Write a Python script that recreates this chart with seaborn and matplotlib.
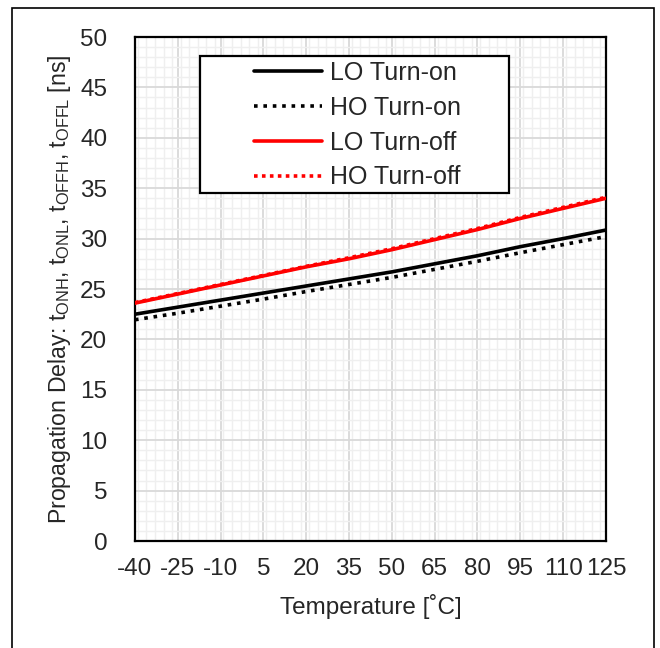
import matplotlib
matplotlib.use("Agg")
import matplotlib.pyplot as plt
import matplotlib.ticker as ticker
from matplotlib.patches import Rectangle
import seaborn as sns
import pandas as pd

# Data
temperature = [-40, -25, -10, 5, 20, 35, 50, 65, 80, 95, 110, 125]
lo_turn_on = [22.5, 23.2, 23.9, 24.6, 25.3, 26.0, 26.7, 27.5, 28.3, 29.2, 30.0, 30.85]
ho_turn_on = [21.95, 22.6, 23.3, 24.0, 24.75, 25.45, 26.15, 26.95, 27.75, 28.6, 29.4, 30.2]
lo_turn_off = [23.6, 24.5, 25.4, 26.3, 27.2, 28.0, 28.9, 29.9, 30.9, 32.0, 33.0, 34.0]
ho_turn_off = [23.65, 24.55, 25.45, 26.35, 27.25, 28.1, 29.0, 30.0, 31.0, 32.1, 33.1, 34.1]
x_ticks = [-40, -25, -10, 5, 20, 35, 50, 65, 80, 95, 110, 125]
y_ticks = [0, 5, 10, 15, 20, 25, 30, 35, 40, 45, 50]

series = [
    ("LO Turn-on", lo_turn_on, "black", "-"),
    ("HO Turn-on", ho_turn_on, "black", (0, (1, 1.6))),
    ("LO Turn-off", lo_turn_off, "#ff0000", "-"),
    ("HO Turn-off", ho_turn_off, "#ff0000", (0, (1, 1.2))),
]

sns.set_style("white")
plt.rcParams["font.family"] = ["Liberation Sans", "DejaVu Sans"]
plt.rcParams["mathtext.fontset"] = "custom"
plt.rcParams["mathtext.rm"] = "Liberation Sans"

fig = plt.figure(figsize=(6.6, 6.48), dpi=100)
ax = fig.add_axes([0.2045, 0.1651, 0.7136, 0.7778])

for name, vals, col, ls in series:
    df = pd.DataFrame({"T": temperature, "v": vals})
    sns.lineplot(data=df, x="T", y="v", ax=ax, color=col, linestyle=ls,
                 linewidth=2.6, label=name, zorder=3)

ax.set_xlim(-40, 125)
ax.set_ylim(0, 50)
ax.set_xticks(x_ticks)
ax.set_xticklabels([str(t) for t in x_ticks])
ax.set_yticks(y_ticks)
ax.xaxis.set_minor_locator(ticker.MultipleLocator(3))
ax.yaxis.set_minor_locator(ticker.MultipleLocator(1))
ax.grid(which="major", color="#d9d9d9", linewidth=1.3, zorder=0)
ax.grid(which="minor", color="#efefef", linewidth=1.0, zorder=0)
ax.set_axisbelow(True)
ax.tick_params(axis="both", which="both", length=0, labelsize=17.5)
ax.tick_params(axis="x", pad=12)
ax.tick_params(axis="y", pad=20)

for sp in ax.spines.values():
    sp.set_color("black")
    sp.set_linewidth(1.6)
    sp.set_visible(True)

ax.set_xlabel("Temperature [˚C]", fontsize=17.5, labelpad=10)
ax.set_ylabel(r"Propagation Delay: t$_{\mathregular{ONH}}$, t$_{\mathregular{ONL}}$, "
              r"t$_{\mathregular{OFFH}}$, t$_{\mathregular{OFFL}}$ [ns]",
              fontsize=16.7, labelpad=5)

# Legend box drawn separately so the frame can be wider than the entries
box = Rectangle((0.138, 0.690), 0.656, 0.272, transform=ax.transAxes,
                facecolor="white", edgecolor="black", linewidth=1.6, zorder=4)
ax.add_patch(box)
leg = ax.legend(loc="upper left", bbox_to_anchor=(0.2527, 0.952), frameon=False,
                fontsize=18, handlelength=2.72, handletextpad=0.32,
                labelspacing=0.43, borderpad=0, borderaxespad=0)
leg.set_zorder(5)

# Outer border of the figure
fig.patches.append(Rectangle((0.018, -0.1), 0.973, 1.0877, transform=fig.transFigure,
                             fill=False, edgecolor="black", linewidth=1.2))

fig.savefig("out.png", dpi=100)
